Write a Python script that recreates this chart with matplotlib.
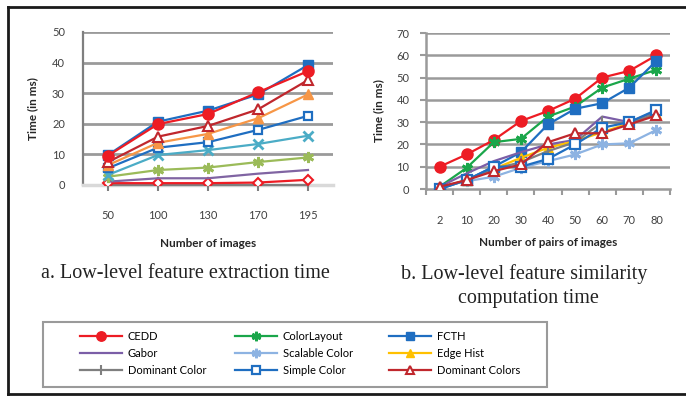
import matplotlib
matplotlib.use("Agg")
import matplotlib.pyplot as plt
from matplotlib.lines import Line2D
from matplotlib.patches import Rectangle

plt.rcParams['font.family'] = ['Lato', 'DejaVu Sans']

# left chart: feature extraction time
left_x = ["50", "100", "130", "170", "195"]
left_fcth = [9.8, 20.7, 24.3, 29.6, 39.2]
left_cedd = [9.6, 19.9, 23.2, 30.3, 37.2]
left_domcolors = [7.5, 15.8, 19.3, 24.7, 34.3]
left_edge = [6.5, 13.8, 16.7, 21.8, 29.6]
left_simple = [5.5, 12.2, 14.0, 18.0, 22.6]
left_scalable = [3.3, 9.8, 11.4, 13.4, 16.1]
left_colorlayout = [2.7, 4.9, 5.7, 7.5, 9.0]
left_gabor = [1.1, 2.2, 2.2, 3.7, 4.9]
left_diamond = [0.6, 0.6, 0.6, 0.8, 1.7]
left_domcolor = [0.0, 0.0, 0.0, 0.0, 0.0]

# right chart: similarity computation time
right_x = ["2", "10", "20", "30", "40", "50", "60", "70", "80"]
right_cedd = [10, 15.5, 22, 30.5, 35, 40.5, 50, 53, 60]
right_colorlayout = [1, 9.5, 21, 22.5, 32.5, 37, 45.5, 49.5, 53.5]
right_fcth = [0, 4, 10, 16.5, 29, 36, 38.5, 45.5, 57.5]
right_gabor = [1, 7, 12.5, 16.5, 20, 22, 32.5, 30, 35]
right_scalable = [1, 3.5, 5.5, 9.5, 12.5, 15.5, 20, 20.5, 26.5]
right_edge = [0.5, 4, 9, 14, 18.5, 21.5, 25.5, 29.5, 33.5]
right_domcolor = [0.5, 4, 9, 12, 17, 21, 30, 29.5, 34]
right_simple = [0, 4, 10, 10, 13.5, 20, 27.5, 30, 35.5]
right_domcolors = [1, 4, 8, 11, 21, 25, 25, 29, 33]

W, H = 686, 397
fig = plt.figure(figsize=(W / 100, H / 100), dpi=100)

def box(x0, y0, x1, y1):
    return [x0 / W, 1 - y1 / H, (x1 - x0) / W, (y1 - y0) / H]

star = (6, 2, 0)
lw = 1.6
tick_col = '#404040'
grid_col = '#9a9a9a'

# ---------- left ----------
ax1 = fig.add_axes(box(83, 32, 333, 185))
xs = range(len(left_x))
ax1.plot(xs, left_domcolor, color='#7f7f7f', lw=lw, marker='|', ms=8, mew=1.5, zorder=3, clip_on=False)
ax1.plot(xs, left_diamond, color='#ed1c24', lw=lw, marker='D', ms=5, mfc='white', mew=1.5, zorder=3)
ax1.plot(xs, left_gabor, color='#8064a2', lw=lw, zorder=3)
ax1.plot(xs, left_colorlayout, color='#9bbb59', lw=lw, marker=star, ms=8, mew=2, zorder=3)
ax1.plot(xs, left_scalable, color='#4bacc6', lw=lw, marker='x', ms=7, mew=2, zorder=3)
ax1.plot(xs, left_simple, color='#1f6ec1', lw=lw, marker='s', ms=6, mfc='white', mew=1.6, zorder=3)
ax1.plot(xs, left_edge, color='#f79646', lw=lw, marker='^', ms=7, zorder=3)
ax1.plot(xs, left_domcolors, color='#c0272d', lw=lw, marker='^', ms=7, mfc='white', mew=1.5, zorder=3)
ax1.plot(xs, left_fcth, color='#1f6ec1', lw=lw, marker='s', ms=7, zorder=3)
ax1.plot(xs, left_cedd, color='#ed1c24', lw=lw, marker='o', ms=8, zorder=3)
ax1.set_xlim(-0.5, len(left_x) - 0.5)
ax1.set_ylim(0, 50)
ax1.set_xticks(list(xs))
ax1.set_xticklabels(left_x)
ax1.set_yticks(range(0, 51, 10))
for v in range(10, 51, 10):
    ax1.axhline(v, color=grid_col, lw=2, zorder=1)
ax1.spines[['top', 'right']].set_visible(False)
ax1.spines['left'].set_color('#7f7f7f')
ax1.spines['left'].set_linewidth(1.6)
ax1.spines['bottom'].set_color('#d9d9d9')
ax1.spines['bottom'].set_linewidth(2.5)
ax1.tick_params(axis='x', length=0, pad=18, labelsize=8, colors=tick_col)
ax1.tick_params(axis='y', length=0, pad=13, labelsize=8, colors=tick_col)
ax1.set_xlabel('Number of images', fontsize=8.5, fontweight='bold', color='#262626', labelpad=12)
ax1.set_ylabel('Time (in ms)', fontsize=8.5, fontweight='bold', color='#262626', labelpad=10)

# ---------- right ----------
ax2 = fig.add_axes(box(426, 33, 670, 189))
xs = range(len(right_x))
series = [
    ('CEDD', right_cedd, dict(color='#ed1c24', marker='o', ms=8)),
    ('ColorLayout', right_colorlayout, dict(color='#1aa64a', marker=star, ms=8, mew=2)),
    ('FCTH', right_fcth, dict(color='#1f6ec1', marker='s', ms=7)),
    ('Gabor', right_gabor, dict(color='#7b5ea7')),
    ('Scalable Color', right_scalable, dict(color='#8db3e2', marker=star, ms=8, mew=2)),
    ('Edge Hist', right_edge, dict(color='#ffc000', marker='^', ms=7)),
    ('Dominant Color', right_domcolor, dict(color='#7f7f7f', marker='|', ms=8, mew=1.5)),
    ('Simple Color', right_simple, dict(color='#1f6ec1', marker='s', ms=7, mfc='white', mew=1.6)),
    ('Dominant Colors', right_domcolors, dict(color='#c0272d', marker='^', ms=7, mfc='white', mew=1.5)),
]
handles = {}
for name, vals, style in series:
    line, = ax2.plot(xs, vals, lw=lw, zorder=3, label=name, **style)
    handles[name] = line
ax2.set_xlim(-0.5, len(right_x) - 0.5)
ax2.set_ylim(0, 70)
ax2.set_xticks(list(xs))
ax2.set_xticklabels(right_x)
ax2.set_xticks([i + 0.5 for i in range(-1, len(right_x))], minor=True)
ax2.set_yticks(range(0, 71, 10))
for v in range(10, 71, 10):
    ax2.axhline(v, color=grid_col, lw=1.8, zorder=1)
ax2.spines[['top', 'right']].set_visible(False)
for s in ['left', 'bottom']:
    ax2.spines[s].set_color(grid_col)
    ax2.spines[s].set_linewidth(1.8)
ax2.tick_params(axis='x', which='major', length=0, pad=19, labelsize=8, colors=tick_col)
ax2.tick_params(axis='x', which='minor', length=4, width=1.5, color=grid_col)
ax2.tick_params(axis='y', length=4, width=1.5, color=grid_col, pad=8, labelsize=8, labelcolor=tick_col)
ax2.set_xlabel('Number of pairs of images', fontsize=8.5, fontweight='bold', color='#262626', labelpad=8)
ax2.set_ylabel('Time (in ms)', fontsize=8.5, fontweight='bold', color='#262626', labelpad=9)

# captions
fig.text(185 / W, 1 - 273 / H, 'a. Low-level feature extraction time', family='Liberation Serif',
         fontsize=14.5, ha='center', va='center', color='#222222')
fig.text(524 / W, 1 - 274 / H, 'b. Low-level feature similarity', family='Liberation Serif',
         fontsize=14.5, ha='center', va='center', color='#222222')
fig.text(528 / W, 1 - 298 / H, 'computation time', family='Liberation Serif',
         fontsize=14.5, ha='center', va='center', color='#222222')

# legend: three columns placed by hand inside one frame
cols = [['CEDD', 'Gabor', 'Dominant Color'],
        ['ColorLayout', 'Scalable Color', 'Simple Color'],
        ['FCTH', 'Edge Hist', 'Dominant Colors']]
col_x = [72, 227, 381]
for cx, names in zip(col_x, cols):
    fig.legend([handles[n] for n in names], names, loc='upper left',
               bbox_to_anchor=(cx / W, 1 - 323 / H), frameon=False, fontsize=8,
               handlelength=3.8, handletextpad=0.5, labelspacing=0.55, borderpad=0.2,
               markerscale=0.85)
fig.add_artist(Rectangle((43 / W, 1 - 387 / H), 504 / W, 65 / H, transform=fig.transFigure,
                         fill=False, edgecolor='#9a9a9a', lw=1.5))

# outer frame (left, top, bottom)
fig.add_artist(Line2D([8 / W, 8 / W], [1 - 394 / H, 1 - 7 / H], color='#1a1a1a', lw=2, transform=fig.transFigure))
fig.add_artist(Line2D([8 / W, 1], [1 - 7 / H, 1 - 7 / H], color='#1a1a1a', lw=2, transform=fig.transFigure))
fig.add_artist(Line2D([8 / W, 1], [1 - 394 / H, 1 - 394 / H], color='#1a1a1a', lw=2, transform=fig.transFigure))

plt.savefig('out.png', dpi=100)
